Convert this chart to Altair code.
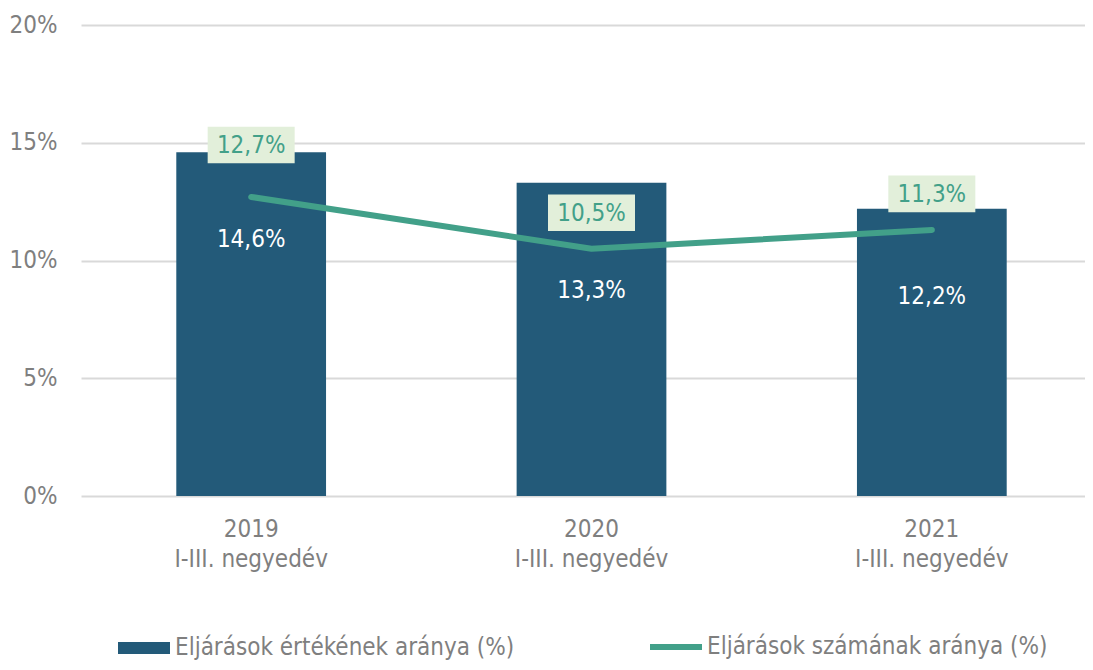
import altair as alt
import pandas as pd

years = ["2019", "2020", "2021"]
period = "I-III. negyedév"
ertek = [14.6, 13.3, 12.2]
szam = [12.7, 10.5, 11.3]
series_bar = "Eljárások értékének aránya (%)"
series_line = "Eljárások számának aránya (%)"
y_ticks = [0, 5, 10, 15, 20]

bar_color = "#235A79"
line_color = "#42A089"
box_color = "#E2EFDA"
text_gray = "#7F7F7F"
grid_gray = "#D9D9D9"
FONT = "DejaVu Sans Condensed"
FS = 24

bars_df = pd.DataFrame({"year": years, "value": ertek, "series": series_bar})
line_df = pd.DataFrame({"year": years, "value": szam, "series": series_line})

label_expr = "replace(format(datum.value, '.1f'), '.', ',') + '%'"

xenc = alt.X(
    "year:N",
    sort=years,
    scale=alt.Scale(range=[0, 1021], paddingInner=0.56, paddingOuter=0.28),
    axis=alt.Axis(
        title=None, labelAngle=0, domain=False, ticks=False,
        labelExpr=f"[datum.value, '{period}']",
        labelFont=FONT, labelFontSize=FS, labelColor=text_gray,
        labelPadding=21, labelLineHeight=30, labelBaseline="top",
    ),
)
yenc = alt.Y(
    "value:Q",
    scale=alt.Scale(domain=[0, 20]),
    axis=alt.Axis(
        title=None, values=y_ticks, labelExpr="datum.value + '%'",
        domain=False, ticks=False, grid=True, gridColor=grid_gray, gridWidth=2,
        labelFont=FONT, labelFontSize=FS, labelColor=text_gray, labelPadding=24,
    ),
)

legend_common = dict(
    title=None, orient="none", direction="horizontal",
    labelFont=FONT, labelFontSize=FS, labelColor=text_gray,
    labelLimit=500,
)

fill = alt.Fill(
    "series:N",
    scale=alt.Scale(domain=[series_bar], range=[bar_color]),
    legend=alt.Legend(
        legendX=37, legendY=597, labelOffset=5,
        symbolType="M-1,-0.23L1,-0.23L1,0.23L-1,0.23Z", symbolSize=2704,
        symbolStrokeWidth=0, symbolOpacity=1,
        **legend_common,
    ),
)
stroke = alt.Stroke(
    "series:N",
    scale=alt.Scale(domain=[series_line], range=[line_color]),
    legend=alt.Legend(
        legendX=566, legendY=593, labelOffset=2,
        symbolType="stroke", symbolSize=2704, symbolStrokeWidth=6,
        **legend_common,
    ),
)

bars = alt.Chart(bars_df).mark_bar().encode(x=xenc, y=yenc, fill=fill)

line = alt.Chart(line_df).mark_line(
    strokeWidth=6, strokeCap="round", strokeJoin="round"
).encode(x="year:N", y="value:Q", stroke=stroke)

bar_lab_a = alt.Chart(bars_df).transform_filter("datum.year != '2020'").transform_calculate(
    lab=label_expr
).mark_text(color="white", font=FONT, fontSize=FS, baseline="middle", dy=88).encode(
    x="year:N", y="value:Q", text="lab:N"
)
bar_lab_b = alt.Chart(bars_df).transform_filter("datum.year == '2020'").transform_calculate(
    lab=label_expr
).mark_text(color="white", font=FONT, fontSize=FS, baseline="middle", dy=108).encode(
    x="year:N", y="value:Q", text="lab:N"
)

box_shape = "M-1,-0.42L1,-0.42L1,0.42L-1,0.42Z"


def line_labels(filt, off):
    src = alt.Chart(line_df).transform_filter(filt).transform_calculate(lab=label_expr)
    box = src.mark_point(
        shape=box_shape, size=87 * 87, filled=True, color=box_color, opacity=1,
        strokeWidth=0, yOffset=off,
    ).encode(x="year:N", y="value:Q")
    txt = src.mark_text(
        color=line_color, font=FONT, fontSize=FS, baseline="middle", dy=off + 1
    ).encode(x="year:N", y="value:Q", text="lab:N")
    return box + txt


lab_2019 = line_labels("datum.year == '2019'", -52)
lab_rest = line_labels("datum.year != '2019'", -36)

chart = alt.layer(
    bars, line, bar_lab_a, bar_lab_b, lab_2019, lab_rest
).properties(
    width=1004, height=471,
    autosize=alt.AutoSizeParams(type="none"),
    padding={"left": 73, "top": 17, "right": 0, "bottom": 166},
).configure_view(strokeWidth=0)

chart.save("out.html", embed_options={"renderer": "svg", "actions": False})
